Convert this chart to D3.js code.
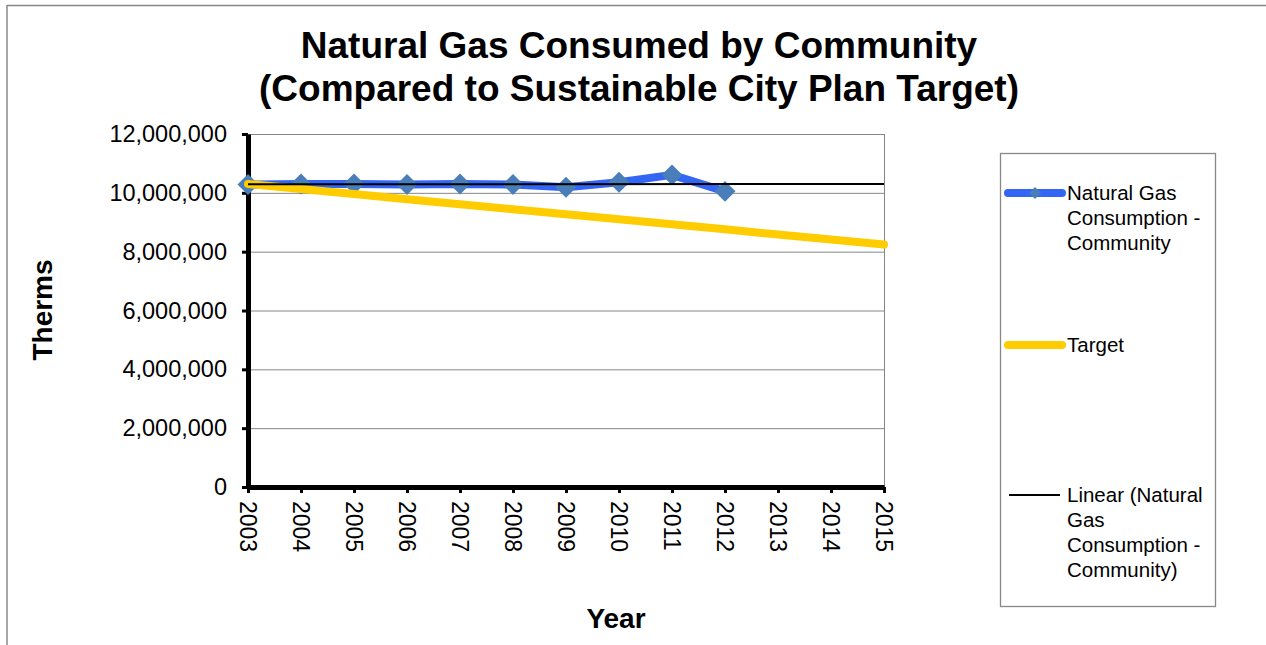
<!DOCTYPE html>
<html>
<head>
<meta charset="utf-8">
<script src="https://cdn.jsdelivr.net/npm/d3@7"></script>
<style>
  html, body { margin: 0; padding: 0; background: #fff; }
  svg { display: block; font-family: "Liberation Sans", Arial, sans-serif; }
</style>
</head>
<body>
<svg id="chart" width="1266" height="645"></svg>
<script>
// ---- data ----
const years = [2003, 2004, 2005, 2006, 2007, 2008, 2009, 2010, 2011, 2012, 2013, 2014, 2015];
const consumptionYears = [2003, 2004, 2005, 2006, 2007, 2008, 2009, 2010, 2011, 2012];
const consumption = [10280000, 10300000, 10300000, 10280000, 10300000, 10280000, 10190000, 10360000, 10610000, 10050000];
const target = [10300000, 10130000, 9960000, 9780000, 9610000, 9440000, 9270000, 9100000, 8930000, 8760000, 8580000, 8410000, 8240000];
const yTicks = [0, 2000000, 4000000, 6000000, 8000000, 10000000, 12000000];
const titleLines = ["Natural Gas Consumed by Community", "(Compared to Sustainable City Plan Target)"];
const legendLabels = [
  ["Natural Gas", "Consumption -", "Community"],
  ["Target"],
  ["Linear (Natural", "Gas", "Consumption -", "Community)"]
];

// ---- layout ----
const svg = d3.select("#chart");
const plot = { left: 248, right: 884, top: 134, bottom: 487 };
const x = d3.scaleLinear().domain([2003, 2015]).range([plot.left, plot.right]);
const y = d3.scaleLinear().domain([0, 12000000]).range([plot.bottom, plot.top]);

// outer frame
svg.append("line").attr("x1", 7).attr("y1", 5.5).attr("x2", 1266).attr("y2", 5.5).attr("stroke", "#888").attr("stroke-width", 1.5);
svg.append("line").attr("x1", 7).attr("y1", 5).attr("x2", 7).attr("y2", 645).attr("stroke", "#888").attr("stroke-width", 1.5);

// title
svg.append("g").selectAll("text").data(titleLines).join("text")
  .attr("x", 639).attr("y", (d, i) => 58 + i * 43)
  .attr("text-anchor", "middle").attr("font-size", 37).attr("font-weight", "bold").attr("fill", "#000")
  .text(d => d);

// gridlines
svg.append("g").attr("class", "grid")
  .attr("transform", `translate(${plot.left},0)`)
  .call(d3.axisLeft(y).tickValues(yTicks).tickSize(-(plot.right - plot.left)).tickFormat(""))
  .call(g => g.select(".domain").remove())
  .call(g => g.selectAll(".tick line").attr("stroke", "#868686").attr("stroke-width", 1));
// right border of plot area
svg.append("line").attr("x1", plot.right + 0.5).attr("x2", plot.right + 0.5).attr("y1", plot.top).attr("y2", plot.bottom)
  .attr("stroke", "#868686").attr("stroke-width", 1);

// y axis
const yAxis = svg.append("g")
  .attr("transform", `translate(${plot.left},0)`)
  .call(d3.axisLeft(y).tickValues(yTicks).tickSize(6).tickSizeOuter(0).tickPadding(15).tickFormat(d3.format(",")));
yAxis.select(".domain").attr("stroke", "#000").attr("stroke-width", 5);
yAxis.selectAll(".tick line").attr("stroke", "#000").attr("stroke-width", 3);
yAxis.selectAll(".tick text").attr("font-size", 23.5).attr("fill", "#000").attr("font-family", "Liberation Sans, Arial, sans-serif");

// x axis
const xAxis = svg.append("g")
  .attr("transform", `translate(0,${plot.bottom})`)
  .call(d3.axisBottom(x).tickValues(years).tickSize(6).tickSizeOuter(0).tickFormat(d3.format("d")));
xAxis.select(".domain").attr("stroke", "#000").attr("stroke-width", 5);
xAxis.selectAll(".tick line").attr("stroke", "#000").attr("stroke-width", 3);
xAxis.selectAll(".tick text")
  .attr("font-size", 23).attr("fill", "#000").attr("font-family", "Liberation Sans, Arial, sans-serif")
  .attr("transform", "rotate(90)")
  .attr("x", 14).attr("y", 0).attr("dy", "0.35em")
  .attr("text-anchor", "start");

// axis titles
svg.append("text").attr("transform", "translate(52,310) rotate(-90)")
  .attr("text-anchor", "middle").attr("font-size", 28).attr("font-weight", "bold").text("Therms");
svg.append("text").attr("x", 616).attr("y", 628)
  .attr("text-anchor", "middle").attr("font-size", 28).attr("font-weight", "bold").text("Year");

// consumption series
const consData = consumptionYears.map((yr, i) => ({ yr, v: consumption[i] }));
const line = d3.line().x(d => x(d.yr)).y(d => y(d.v));
svg.append("path").datum(consData).attr("d", line)
  .attr("fill", "none").attr("stroke", "#3366f5").attr("stroke-width", 8)
  .attr("stroke-linejoin", "round").attr("stroke-linecap", "round");
const diamond = d3.symbol().type(d3.symbolDiamond2).size(280);
svg.append("g").selectAll("path").data(consData).join("path")
  .attr("transform", d => `translate(${x(d.yr)},${y(d.v)})`)
  .attr("d", diamond).attr("fill", "#4a7ebb");

// target series
const targetData = years.map((yr, i) => ({ yr, v: target[i] }));
svg.append("path").datum(targetData).attr("d", line)
  .attr("fill", "none").attr("stroke", "#ffcc00").attr("stroke-width", 8)
  .attr("stroke-linecap", "round");

// linear trend of consumption
const mx = d3.mean(consData, d => d.yr), my = d3.mean(consData, d => d.v);
const slope = d3.sum(consData, d => (d.yr - mx) * (d.v - my)) / d3.sum(consData, d => (d.yr - mx) ** 2);
const trend = [2003, 2015].map(yr => ({ yr, v: my + slope * (yr - mx) }));
svg.append("path").datum(trend).attr("d", line)
  .attr("fill", "none").attr("stroke", "#000").attr("stroke-width", 2);

// legend
const lg = svg.append("g");
lg.append("rect").attr("x", 1000.5).attr("y", 153.5).attr("width", 215).attr("height", 453)
  .attr("fill", "#fff").attr("stroke", "#888").attr("stroke-width", 1.3);
const legendY = [193, 345, 495];
// entry 1
lg.append("line").attr("x1", 1008).attr("x2", 1062).attr("y1", legendY[0]).attr("y2", legendY[0])
  .attr("stroke", "#3366f5").attr("stroke-width", 8).attr("stroke-linecap", "round");
lg.append("path").attr("transform", `translate(1035,${legendY[0]})`).attr("d", d3.symbol().type(d3.symbolDiamond2).size(90)).attr("fill", "#4a7ebb");
// entry 2
lg.append("line").attr("x1", 1008).attr("x2", 1062).attr("y1", legendY[1]).attr("y2", legendY[1])
  .attr("stroke", "#ffcc00").attr("stroke-width", 8).attr("stroke-linecap", "round");
// entry 3
lg.append("line").attr("x1", 1009).attr("x2", 1060).attr("y1", legendY[2]).attr("y2", legendY[2])
  .attr("stroke", "#000").attr("stroke-width", 2);
legendLabels.forEach((lines, k) => {
  lg.append("g").selectAll("text").data(lines).join("text")
    .attr("x", 1067).attr("y", (d, i) => legendY[k] + i * 25).attr("dy", "0.35em")
    .attr("font-size", 20.5).attr("fill", "#000").text(d => d);
});
</script>
</body>
</html>
